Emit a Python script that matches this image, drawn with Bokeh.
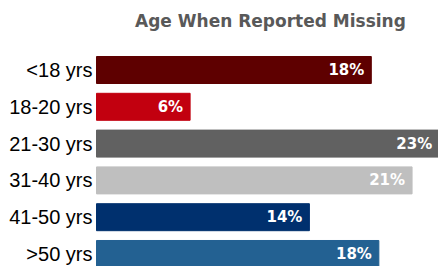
from bokeh.plotting import figure
from bokeh.models import Range1d, ColumnDataSource
from bokeh.core.properties import value
from bokeh.embed import file_html
from bokeh.resources import INLINE

categories = ["<18 yrs", "18-20 yrs", "21-30 yrs", "31-40 yrs", "41-50 yrs", ">50 yrs"]
values = [18.2, 6.2, 22.7, 20.9, 14.1, 18.7]
value_labels = ["18%", "6%", "23%", "21%", "14%", "18%"]
colors = ["#5e0000", "#c2000f", "#616161", "#bfbfbf", "#00306e", "#236192"]
title_text = "Age When Reported Missing"

idx = list(range(len(categories)))
src = ColumnDataSource(dict(y=idx, v=values, lab=value_labels, cat=categories,
                            color=colors, zero=[0] * len(idx)))

p = figure(width=438, height=266, output_backend="svg", toolbar_location=None,
           x_range=Range1d(-6.358, 22.65), y_range=Range1d(5.34, -1.889),
           min_border=0, min_border_left=0, min_border_right=0,
           min_border_top=0, min_border_bottom=0)
p.axis.visible = False
p.grid.visible = False
p.outline_line_color = None
p.background_fill_color = "white"

p.hbar(y="y", left=0, right="v", height=0.734, color="color", source=src)

p.text(x="zero", y="y", text="cat", source=src, x_offset=-4,
       text_align="right", text_baseline="middle",
       text_font=value("Liberation Sans"), text_font_size="20px", text_color="#000000")

p.text(x="v", y="y", text="lab", source=src, x_offset=-7,
       text_align="right", text_baseline="middle",
       text_font=value("DejaVu Sans"), text_font_style="bold",
       text_font_size="15px", text_color="#ffffff")

p.text(x=[11.52], y=[-1.345], text=[title_text],
       text_align="center", text_baseline="middle",
       text_font=value("DejaVu Sans"), text_font_style="bold",
       text_font_size="17px", text_color="#595959")

open("out.html", "w").write(file_html(p, INLINE))
